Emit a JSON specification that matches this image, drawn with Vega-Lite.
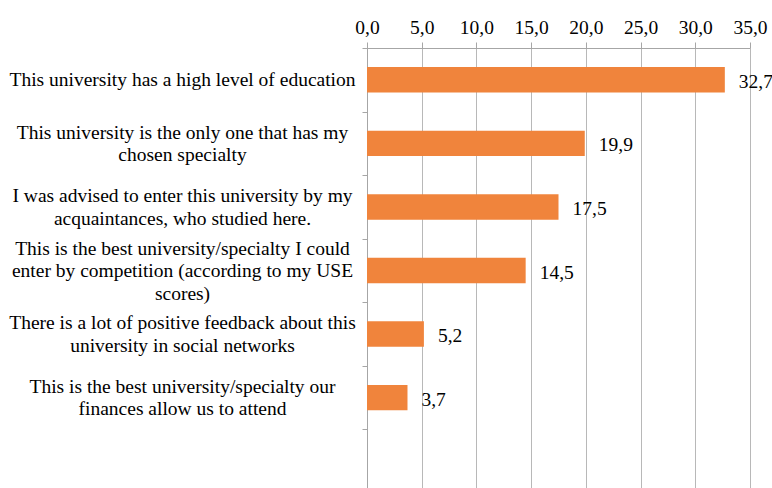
{
  "$schema": "https://vega.github.io/schema/vega-lite/v6.json",
  "width": 383,
  "height": 445,
  "autosize": {"type": "none"},
  "padding": {"left": 367, "top": 48, "right": 22, "bottom": 0},
  "background": "white",
  "data": {
    "values": [
      {"reason": "This university has a high level of education", "pct": 32.7},
      {"reason": "This university is the only one that has my|chosen specialty", "pct": 19.9},
      {"reason": "I was advised to enter this university by my|acquaintances, who studied here.", "pct": 17.5},
      {"reason": "This is the best university/specialty I could|enter by competition (according to my USE|scores)", "pct": 14.5},
      {"reason": "There is a lot of positive feedback about this|university in social networks", "pct": 5.2},
      {"reason": "This is the best university/specialty our|finances allow us to attend", "pct": 3.7}
    ]
  },
  "encoding": {
    "y": {
      "field": "reason",
      "type": "nominal",
      "sort": null,
      "scale": {
        "domain": [
          "This university has a high level of education",
          "This university is the only one that has my|chosen specialty",
          "I was advised to enter this university by my|acquaintances, who studied here.",
          "This is the best university/specialty I could|enter by competition (according to my USE|scores)",
          "There is a lot of positive feedback about this|university in social networks",
          "This is the best university/specialty our|finances allow us to attend",
          " "
        ],
        "paddingInner": 0,
        "paddingOuter": 0
      },
      "axis": {
        "title": null,
        "orient": "left",
        "tickBand": "extent",
        "tickSize": 5,
        "tickColor": "#a6a6a6",
        "domainColor": "#a6a6a6",
        "labelAlign": "center",
        "labelBaseline": "middle",
        "labelPadding": 180,
        "labelLimit": 400,
        "labelFont": "Liberation Serif",
        "labelFontSize": 19.5,
        "labelColor": "#000000",
        "labelLineHeight": 22.5,
        "labelOffset": {
          "condition": [
            {"test": "length(split(datum.label, '|')) == 3", "value": -22.5},
            {"test": "length(split(datum.label, '|')) == 2", "value": -11.25}
          ],
          "value": 0
        },
        "labelExpr": "split(datum.label, '|')",
        "grid": false
      }
    },
    "x": {
      "field": "pct",
      "type": "quantitative",
      "scale": {"domain": [0, 35], "nice": false},
      "axis": {
        "title": null,
        "orient": "top",
        "values": [0, 5, 10, 15, 20, 25, 30, 35],
        "format": ".1f",
        "tickSize": 6,
        "tickColor": "#a6a6a6",
        "domainColor": "#a6a6a6",
        "grid": true,
        "gridColor": "#b8b8b8",
        "labelFlush": false,
        "labelOverlap": false,
        "labelBaseline": "alphabetic",
        "labelPadding": 9,
        "labelDx": 2,
        "labelFont": "Liberation Serif",
        "labelFontSize": 19.5,
        "labelColor": "#000000"
      }
    }
  },
  "layer": [
    {
      "mark": {"type": "bar", "color": "#F0843C", "height": {"band": 0.4}}
    },
    {
      "mark": {
        "type": "text",
        "align": "left",
        "baseline": "middle",
        "dx": 14,
        "dy": 2,
        "font": "Liberation Serif",
        "fontSize": 19.5,
        "color": "#000000"
      },
      "encoding": {
        "text": {"field": "pct", "type": "quantitative", "format": ".1f"}
      }
    }
  ],
  "config": {
    "view": {"stroke": null},
    "font": "Liberation Serif",
    "locale": {
      "number": {"decimal": ",", "thousands": " ", "grouping": [3], "currency": ["", ""]}
    }
  }
}
